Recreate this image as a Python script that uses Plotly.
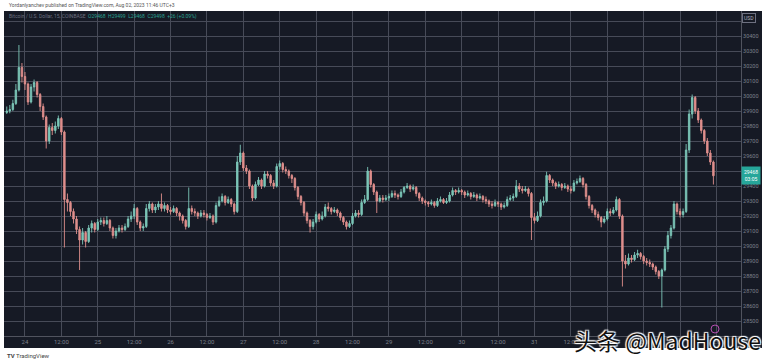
import pandas as pd
import plotly.graph_objects as go

# ---------------- data (hourly candles, BTC/USD) ----------------
first_open = 29890
close = [
    29900, 29910, 29950, 30040, 30190, 30130,
    30080, 29960, 30060, 30090, 30010, 29930, 29860, 29700, 29790, 29770, 29800, 29850, 29760,
    29310, 29290, 29230, 29180, 29110, 29040, 29090, 29030, 29120, 29150, 29110,
    29160, 29170, 29150, 29170, 29120, 29070, 29100, 29120, 29110, 29130, 29180, 29200, 29250, 29160, 29120, 29130,
    29250, 29280, 29240, 29260, 29280, 29250, 29270, 29240, 29230, 29250, 29220, 29200, 29170, 29130,
    29250, 29230, 29220, 29200, 29220, 29210, 29190, 29200, 29160, 29270, 29300, 29330, 29290, 29310, 29280, 29230,
    29560, 29620, 29520, 29500, 29400, 29320, 29410, 29440, 29400, 29480, 29470, 29420, 29400,
    29530, 29550, 29510, 29500, 29470, 29450, 29390, 29330, 29290, 29220, 29170, 29130, 29160, 29210, 29180, 29200,
    29260, 29250, 29230, 29240, 29220, 29190, 29160, 29130, 29150, 29200, 29220, 29210, 29290, 29310,
    29500, 29410, 29360, 29300, 29320, 29310, 29320, 29330, 29350, 29340, 29330, 29360, 29390, 29400, 29380, 29390,
    29350, 29320, 29300, 29290, 29280, 29290, 29270, 29300, 29310, 29290, 29300, 29340, 29370, 29360, 29370, 29360,
    29340, 29350, 29330, 29340, 29320, 29330, 29310, 29300, 29280, 29270, 29290, 29280, 29260, 29270, 29310, 29320, 29330,
    29400, 29380, 29370, 29380, 29350, 29190, 29170, 29200, 29290, 29300, 29470, 29440, 29420, 29400, 29410, 29390, 29400, 29380, 29370,
    29420, 29430, 29450, 29410, 29330, 29270, 29240, 29210, 29190, 29160, 29180, 29230, 29220, 29240, 29310, 29200,
    28900, 28880, 28920, 28910, 28940, 28950, 28930, 28900, 28890, 28880, 28860, 28830, 28800, 28840,
    28980, 29070, 29120, 29280, 29230, 29210, 29230, 29640, 29880, 29990, 29900, 29840, 29770, 29700, 29620, 29560, 29468,
]
high = [
    29930, 29940, 29975, 30080, 30340, 30220,
    30160, 30090, 30080, 30110, 30100, 30020, 29950, 29870, 29810, 29820, 29830, 29870, 29860,
    29770, 29350, 29300, 29250, 29200, 29130, 29120, 29100, 29140, 29170, 29160,
    29180, 29190, 29190, 29200, 29180, 29130, 29120, 29140, 29140, 29150, 29200, 29230, 29280, 29260, 29170, 29150,
    29280, 29300, 29290, 29280, 29300, 29350, 29290, 29280, 29260, 29270, 29260, 29230, 29210, 29180,
    29390, 29270, 29250, 29230, 29240, 29240, 29220, 29220, 29210, 29290, 29330, 29350, 29340, 29330, 29320, 29290,
    29600, 29675, 29630, 29540, 29510, 29410, 29430, 29460, 29450, 29500, 29500, 29480, 29440,
    29550, 29570, 29560, 29530, 29510, 29480, 29460, 29400, 29340, 29300, 29230, 29180, 29180, 29230, 29220, 29230,
    29280, 29290, 29260, 29260, 29250, 29230, 29200, 29170, 29170, 29220, 29240, 29240, 29310, 29340,
    29527, 29510, 29420, 29370, 29340, 29340, 29340, 29350, 29370, 29370, 29350, 29380, 29400, 29420, 29410, 29410,
    29400, 29360, 29330, 29310, 29300, 29310, 29300, 29320, 29330, 29320, 29320, 29360, 29390, 29380, 29390, 29380,
    29370, 29370, 29360, 29360, 29350, 29350, 29340, 29330, 29310, 29300, 29310, 29300, 29290, 29290, 29330, 29340, 29350,
    29440, 29420, 29400, 29400, 29390, 29360, 29220, 29230, 29310, 29330, 29495, 29480, 29450, 29430, 29430, 29420, 29420, 29410, 29400,
    29440, 29450, 29470, 29460, 29420, 29340, 29280, 29250, 29230, 29200, 29200, 29250, 29250, 29260, 29330, 29320,
    29210, 28940, 28950, 28940, 28960, 28975, 28960, 28940, 28920, 28910, 28890, 28870, 28840, 28850,
    29000, 29100, 29140, 29300, 29290, 29250, 29250, 29680, 29910, 30010, 30000, 29920, 29850, 29780, 29720, 29640, 29570,
]
low = [
    29880, 29885, 29900, 29940, 30030, 30090,
    30040, 29940, 29950, 30030, 29990, 29900, 29840, 29650, 29680, 29740, 29750, 29780, 29740,
    28990, 29230, 29200, 29150, 29080, 28840, 29010, 28990, 29020, 29090, 29090,
    29100, 29140, 29130, 29140, 29100, 29050, 29050, 29090, 29090, 29100, 29120, 29160, 29180, 29140, 29100, 29100,
    29120, 29230, 29220, 29220, 29240, 29230, 29230, 29220, 29210, 29220, 29200, 29170, 29150, 29110,
    29120, 29210, 29200, 29180, 29190, 29190, 29170, 29180, 29140, 29150, 29260, 29290, 29270, 29280, 29260, 29210,
    29220, 29540, 29500, 29480, 29380, 29300, 29310, 29400, 29380, 29390, 29450, 29400, 29380,
    29390, 29510, 29490, 29480, 29450, 29420, 29370, 29310, 29270, 29200, 29150, 29090, 29110, 29150, 29160, 29170,
    29190, 29230, 29210, 29220, 29200, 29170, 29140, 29110, 29120, 29140, 29190, 29190, 29200, 29280,
    29300, 29390, 29340, 29220, 29290, 29290, 29300, 29300, 29320, 29320, 29310, 29320, 29350, 29380, 29360, 29370,
    29330, 29300, 29280, 29270, 29260, 29270, 29255, 29260, 29290, 29280, 29280, 29290, 29330, 29340, 29350, 29340,
    29320, 29330, 29310, 29320, 29300, 29310, 29290, 29280, 29260, 29250, 29260, 29260, 29240, 29250, 29260, 29300, 29300,
    29320, 29360, 29350, 29360, 29330, 29040, 29150, 29160, 29190, 29270, 29290, 29420, 29400, 29380, 29390, 29370, 29380, 29360, 29350,
    29360, 29410, 29420, 29390, 29310, 29250, 29220, 29190, 29170, 29125, 29150, 29170, 29200, 29210, 29230, 29180,
    28730, 28850, 28870, 28890, 28900, 28920, 28910, 28880, 28870, 28860, 28840, 28810, 28780, 28590,
    28830, 28960, 29050, 29110, 29210, 29190, 29190, 29220, 29620, 29850, 29880, 29820, 29750, 29680, 29600, 29540, 29410,
]
start_time = "2023-07-23 18:00"
price_ticks = [28500, 28600, 28700, 28800, 28900, 29000, 29100, 29200, 29300, 29400,
               29500, 29600, 29700, 29800, 29900, 30000, 30100, 30200, 30300, 30400, 30500]
price_tick_text = [str(v) for v in price_ticks[:-1]] + [""]
time_ticks = pd.date_range("2023-07-24 00:00", periods=20, freq="12h")
time_tick_text = ["24", "12:00", "25", "12:00", "26", "12:00", "27", "12:00", "28", "12:00",
                  "29", "12:00", "30", "12:00", "31", "12:00", "Aug", "12:00", "2", "12:00"]
last_price = 29468

# ---------------- build ----------------
times = pd.date_range(start_time, periods=len(close), freq="1h")
opens = [first_open] + close[:-1]
hi = [max(h, o, c) for h, o, c in zip(high, opens, close)]
lo = [min(l, o, c) for l, o, c in zip(low, opens, close)]

BG = "#161a25"
GRID = "#474b58"
TXT = "#7d808b"
UP = "#7cc6b8"
DN = "#e08f8c"

fig = go.Figure(go.Candlestick(
    x=times, open=opens, high=hi, low=lo, close=close,
    increasing=dict(line=dict(color=UP, width=0.9), fillcolor=UP),
    decreasing=dict(line=dict(color=DN, width=0.9), fillcolor=DN),
    whiskerwidth=0, showlegend=False, hoverinfo="skip",
))

W, H = 766, 363
L, R, T, B = 4, 741, 11, 336
pw, ph = R - L, B - T


def px_x(p):
    return (p - L) / pw


def px_y(p):
    return (B - p) / ph


fig.update_layout(
    width=W, height=H,
    margin=dict(l=L, r=W - R, t=T, b=H - B),
    paper_bgcolor="white", plot_bgcolor=BG,
    font=dict(family="Roboto, DejaVu Sans, sans-serif", color=TXT, size=6),
    xaxis=dict(
        type="date", range=["2023-07-23 17:05", "2023-08-02 20:06"],
        rangeslider=dict(visible=False),
        tickvals=time_ticks, ticktext=time_tick_text,
        showgrid=True, gridcolor=GRID, gridwidth=1,
        showline=True, linecolor="#50535e", linewidth=1,
        ticks="", tickfont=dict(size=6, color=TXT), zeroline=False,
    ),
    yaxis=dict(
        side="right", range=[28400, 30400 + 166.7],
        tickvals=price_ticks, ticktext=price_tick_text,
        showgrid=True, gridcolor=GRID, gridwidth=1,
        showline=True, linecolor="#50535e", linewidth=1,
        ticks="", tickfont=dict(size=5.5, color=TXT), zeroline=False,
    ),
    shapes=[
        dict(type="rect", xref="paper", yref="paper", layer="below",
             x0=0, x1=px_x(762), y0=px_y(348), y1=1,
             fillcolor=BG, line=dict(width=0)),
        dict(type="circle", xref="paper", yref="paper",
             x0=px_x(711), x1=px_x(719), y0=px_y(333), y1=px_y(325),
             line=dict(color="#b44fb0", width=1)),
    ],
    annotations=[
        dict(xref="paper", yref="paper", x=px_x(7), y=px_y(5), xanchor="left", yanchor="middle",
             text="Yordanlyanchev published on TradingView.com, Aug 02, 2023 11:46 UTC+3",
             showarrow=False, font=dict(size=5, color="#555")),
        dict(xref="paper", yref="paper", x=px_x(7), y=px_y(17), xanchor="left", yanchor="middle",
             text="Bitcoin / U.S. Dollar, 15, COINBASE  "
                  "<span style='color:#2aa393'>O29468  H29499  L29468  C29498  +26 (+0.09%)</span>",
             showarrow=False, font=dict(size=5, color="#6d7080")),
        dict(xref="paper", yref="paper", x=px_x(749), y=px_y(18), xanchor="center", yanchor="middle",
             text="USD", showarrow=False, font=dict(size=5, color="#b0b3bd"),
             bordercolor="#6d7080", borderwidth=1, borderpad=1),
        dict(xref="paper", yref="y", x=1.0, y=last_price, xanchor="left", yanchor="middle",
             text="29468<br>03:05", showarrow=False, align="center",
             font=dict(size=5, color="white"), bgcolor="#26a69a", borderpad=2),
        dict(xref="paper", yref="paper", x=px_x(5), y=px_y(355), xanchor="left", yanchor="middle",
             text="<b>TV</b> TradingView", showarrow=False, font=dict(size=6, color="#444")),
        dict(xref="paper", yref="paper", x=px_x(667), y=px_y(340), xanchor="center", yanchor="middle",
             text="头条 @MadHouse", showarrow=False,
             font=dict(family="Noto Sans CJK SC, sans-serif", size=23, color="#111",
                       shadow="1px 1px 1px #fff, -1px -1px 1px #fff, 1px -1px 1px #fff, -1px 1px 1px #fff")),
    ],
)

fig.write_html("out.html")
